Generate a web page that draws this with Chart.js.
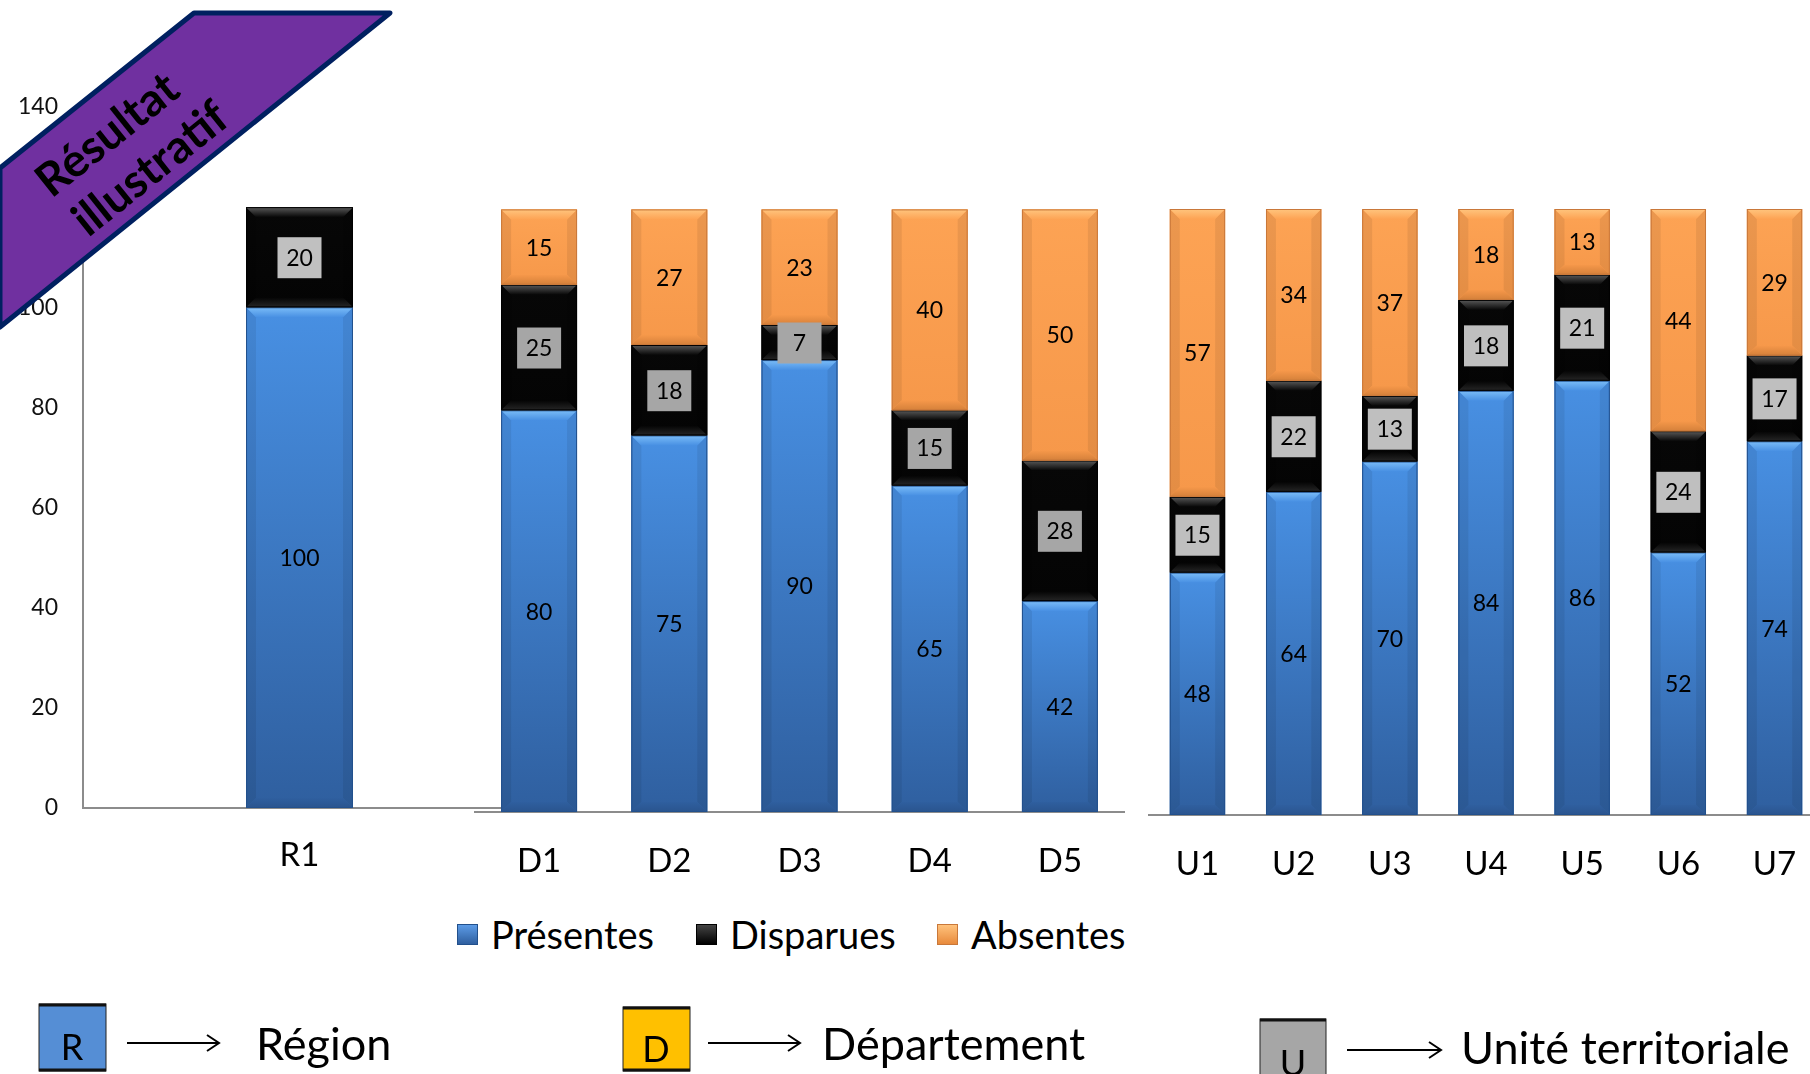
<!DOCTYPE html>
<html>
<head>
<meta charset="utf-8">
<script src="https://cdn.jsdelivr.net/npm/chart.js@4.4.0/dist/chart.umd.min.js"></script>
<style>
  html, body { margin: 0; padding: 0; background: #fff; }
  body { width: 1810px; height: 1074px; overflow: hidden; position: relative; font-family: Lato, sans-serif; }
  canvas { position: absolute; top: 0; }
  #legend { position: absolute; top: 912px; left: 0; width: 1810px; height: 44px; }
  .item { position: absolute; top: 0; height: 44px; display: flex; align-items: center; font-size: 38px; color: #000; }
  .sq { width: 21px; height: 21px; margin-right: 13px; box-sizing: border-box; }
  svg { position: absolute; left: 0; top: 0; }
</style>
</head>
<body>
<canvas id="panelR" width="516" height="900" style="left:0"></canvas>
<canvas id="panelD" width="651" height="900" style="left:474px"></canvas>
<canvas id="panelU" width="680" height="900" style="left:1146px"></canvas>
<div id="legend"></div>

<svg width="1810" height="1074" viewBox="0 0 1810 1074">
  <!-- bandeau -->
  <polygon points="0,168 194,13 390,13 0,327" fill="#7030A0" stroke="#002060" stroke-width="5" stroke-linejoin="round"/>
  <text transform="translate(106,133) rotate(-38.7)" text-anchor="middle" dominant-baseline="central"
        font-family="Lato" font-weight="bold" font-size="46" fill="#000">Résultat</text>
  <text transform="translate(149,167) rotate(-38.7)" text-anchor="middle" dominant-baseline="central"
        font-family="Lato" font-weight="bold" font-size="46" fill="#000">illustratif</text>

  <!-- clé en bas -->
  <g font-family="Lato" fill="#000">
    <rect x="39" y="1004" width="67" height="67" fill="#558ED5" stroke="#222" stroke-width="1"/>
    <line x1="39" y1="1005" x2="106" y2="1005" stroke="#111" stroke-width="3"/>
    <line x1="39" y1="1070" x2="106" y2="1070" stroke="#111" stroke-width="3"/>
    <text x="72" y="1060" text-anchor="middle" font-size="36">R</text>
    <line x1="127" y1="1043" x2="219" y2="1043" stroke="#000" stroke-width="2"/>
    <path d="M207,1035 L219,1043 L207,1051" fill="none" stroke="#000" stroke-width="2"/>
    <text x="256" y="1060" font-size="45">Région</text>

    <rect x="623" y="1007" width="67" height="64" fill="#FFC000" stroke="#222" stroke-width="1"/>
    <line x1="623" y1="1008" x2="690" y2="1008" stroke="#111" stroke-width="3"/>
    <line x1="623" y1="1070" x2="690" y2="1070" stroke="#111" stroke-width="3"/>
    <text x="656" y="1062" text-anchor="middle" font-size="36">D</text>
    <line x1="708" y1="1043" x2="800" y2="1043" stroke="#000" stroke-width="2"/>
    <path d="M788,1035 L800,1043 L788,1051" fill="none" stroke="#000" stroke-width="2"/>
    <text x="822" y="1060" font-size="45">Département</text>

    <rect x="1260" y="1019" width="66" height="70" fill="#A6A6A6" stroke="#222" stroke-width="1"/>
    <line x1="1260" y1="1020" x2="1326" y2="1020" stroke="#111" stroke-width="3"/>
    <text x="1293" y="1076" text-anchor="middle" font-size="36">U</text>
    <line x1="1347" y1="1050" x2="1441" y2="1050" stroke="#000" stroke-width="2"/>
    <path d="M1429,1042 L1441,1050 L1429,1058" fill="none" stroke="#000" stroke-width="2"/>
    <text x="1461" y="1064" font-size="45">Unité territoriale</text>
  </g>
</svg>

<script>
// axe vertical commun
const yMax = 140;
const yStep = 20;

// séries
const seriesNames = ['Présentes', 'Disparues', 'Absentes'];

// Région
const categoriesR = ['R1'];
const presentesR = [100];
const disparuesR = [20];
const absentesR = [0];

// Départements
const categoriesD = ['D1', 'D2', 'D3', 'D4', 'D5'];
const presentesD = [80, 75, 90, 65, 42];
const disparuesD = [25, 18, 7, 15, 28];
const absentesD = [15, 27, 23, 40, 50];

// Unités territoriales
const categoriesU = ['U1', 'U2', 'U3', 'U4', 'U5', 'U6', 'U7'];
const presentesU = [48, 64, 70, 84, 86, 52, 74];
const disparuesU = [15, 22, 13, 18, 21, 24, 17];
const absentesU = [57, 34, 37, 18, 13, 44, 29];

// couleurs / effet biseau de chaque série
const seriesStyle = [
  { fill: '#3C78C4', top: '#4890E3', bottom: '#2F5F9F', border: '#22508C', light: '#7BBDF8', dark: '#2A548E' },
  { fill: '#050505', top: '#070707', bottom: '#040404', border: '#000000', light: '#5A5A5A', dark: '#262626' },
  { fill: '#FA9D4E', top: '#FDA354', bottom: '#F6984A', border: '#C9783A', light: '#FFC57E', dark: '#D4803A' }
];

// dessine le dégradé, le biseau et les étiquettes de valeurs
const barDecor = {
  id: 'barDecor',
  afterDatasetsDraw(chart, args, opts) {
    const ctx = chart.ctx;
    ctx.save();
    chart.data.datasets.forEach((ds, i) => {
      const st = seriesStyle[i];
      chart.getDatasetMeta(i).data.forEach((bar, j) => {
        if (!ds.data[j]) return;
        const p = bar.getProps(['x', 'y', 'base', 'width'], true);
        const l = p.x - p.width / 2, r = p.x + p.width / 2;
        const t = Math.min(p.y, p.base), b = Math.max(p.y, p.base);
        const h = b - t;
        const bv = Math.min(10, h * 0.3);

        const g = ctx.createLinearGradient(0, t, 0, b);
        g.addColorStop(0, st.top);
        g.addColorStop(1, st.bottom);
        ctx.fillStyle = g;
        ctx.fillRect(l, t, r - l, h);

        // côtés
        ctx.fillStyle = 'rgba(0,0,0,0.07)';
        ctx.beginPath();
        ctx.moveTo(l, t); ctx.lineTo(l + bv, t + bv); ctx.lineTo(l + bv, b - bv); ctx.lineTo(l, b);
        ctx.closePath(); ctx.fill();
        ctx.beginPath();
        ctx.moveTo(r, t); ctx.lineTo(r - bv, t + bv); ctx.lineTo(r - bv, b - bv); ctx.lineTo(r, b);
        ctx.closePath(); ctx.fill();

        // haut
        const gt = ctx.createLinearGradient(0, t, 0, t + bv);
        gt.addColorStop(0, st.light);
        gt.addColorStop(1, st.top);
        ctx.fillStyle = gt;
        ctx.beginPath();
        ctx.moveTo(l, t); ctx.lineTo(r, t); ctx.lineTo(r - bv, t + bv); ctx.lineTo(l + bv, t + bv);
        ctx.closePath(); ctx.fill();

        // bas
        const gb = ctx.createLinearGradient(0, b - bv, 0, b);
        gb.addColorStop(0, st.bottom);
        gb.addColorStop(1, st.dark);
        ctx.fillStyle = gb;
        ctx.beginPath();
        ctx.moveTo(l, b); ctx.lineTo(r, b); ctx.lineTo(r - bv, b - bv); ctx.lineTo(l + bv, b - bv);
        ctx.closePath(); ctx.fill();

        ctx.strokeStyle = st.border;
        ctx.lineWidth = 1;
        ctx.strokeRect(l + 0.5, t + 0.5, r - l - 1, h - 1);
      });
    });

    // étiquettes
    ctx.font = '23px Lato';
    ctx.textAlign = 'center';
    ctx.textBaseline = 'middle';
    chart.data.datasets.forEach((ds, i) => {
      chart.getDatasetMeta(i).data.forEach((bar, j) => {
        const v = ds.data[j];
        if (!v) return;
        const p = bar.getProps(['x', 'y', 'base'], true);
        const cy = (p.y + p.base) / 2;
        if (i === 1) {
          ctx.fillStyle = opts.boxColor;
          ctx.fillRect(p.x - 22, cy - 20, 44, 41);
        }
        ctx.fillStyle = '#000';
        ctx.fillText(String(v), p.x, cy + 1);
      });
    });
    ctx.restore();
  }
};

function makePanel(id, labels, pres, disp, abs, o) {
  const data = [pres, disp, abs];
  return new Chart(document.getElementById(id), {
    type: 'bar',
    data: {
      labels: labels,
      datasets: data.map((d, i) => ({
        label: seriesNames[i],
        data: d,
        backgroundColor: seriesStyle[i].fill,
        borderWidth: 0
      }))
    },
    options: {
      responsive: false,
      animation: false,
      layout: { padding: { top: o.top, left: 0, right: 0, bottom: 0 } },
      datasets: { bar: { barPercentage: o.barPct, categoryPercentage: 1 } },
      plugins: {
        legend: { display: false },
        tooltip: { enabled: false },
        barDecor: { boxColor: o.boxColor }
      },
      scales: {
        x: {
          stacked: true,
          grid: { display: false, drawTicks: false },
          border: { color: '#8C8C8C', width: 2 },
          ticks: { padding: o.labelPad, color: '#000', font: { family: 'Lato', size: 33 } },
          afterFit: s => { s.height = o.xHeight; }
        },
        y: {
          stacked: true,
          display: o.showY,
          min: 0,
          max: yMax,
          grid: { display: false, drawTicks: false },
          border: { color: '#8C8C8C', width: 2 },
          ticks: { stepSize: yStep, padding: 25, color: '#111', font: { family: 'Lato', size: 23 } },
          afterFit: s => { s.width = o.showY ? 83 : 0; }
        }
      }
    },
    plugins: [barDecor]
  });
}

makePanel('panelR', categoriesR, presentesR, disparuesR, absentesR,
  { top: 107, xHeight: 92, barPct: 0.247, boxColor: '#C0C0C0', labelPad: 28, showY: true });
makePanel('panelD', categoriesD, presentesD, disparuesD, absentesD,
  { top: 109, xHeight: 88, barPct: 0.583, boxColor: '#A6A6A6', labelPad: 30, showY: false });
makePanel('panelU', categoriesU, presentesU, disparuesU, absentesU,
  { top: 108, xHeight: 85, barPct: 0.575, boxColor: '#BFBFBF', labelPad: 30, showY: false });

// légende
const legendLeft = [457, 696, 937];
const legendSwatch = [
  'linear-gradient(#5C9BE6, #2F5F9F)',
  'linear-gradient(#444, #000)',
  'linear-gradient(#FFC27C, #E88A3C)'
];
const legend = document.getElementById('legend');
seriesNames.forEach((name, i) => {
  const it = document.createElement('div');
  it.className = 'item';
  it.style.left = legendLeft[i] + 'px';
  it.innerHTML = '<div class="sq" style="background:' + legendSwatch[i] + ';border:1px solid ' +
    seriesStyle[i].border + '"></div>' + name;
  legend.appendChild(it);
});
</script>
</body>
</html>
